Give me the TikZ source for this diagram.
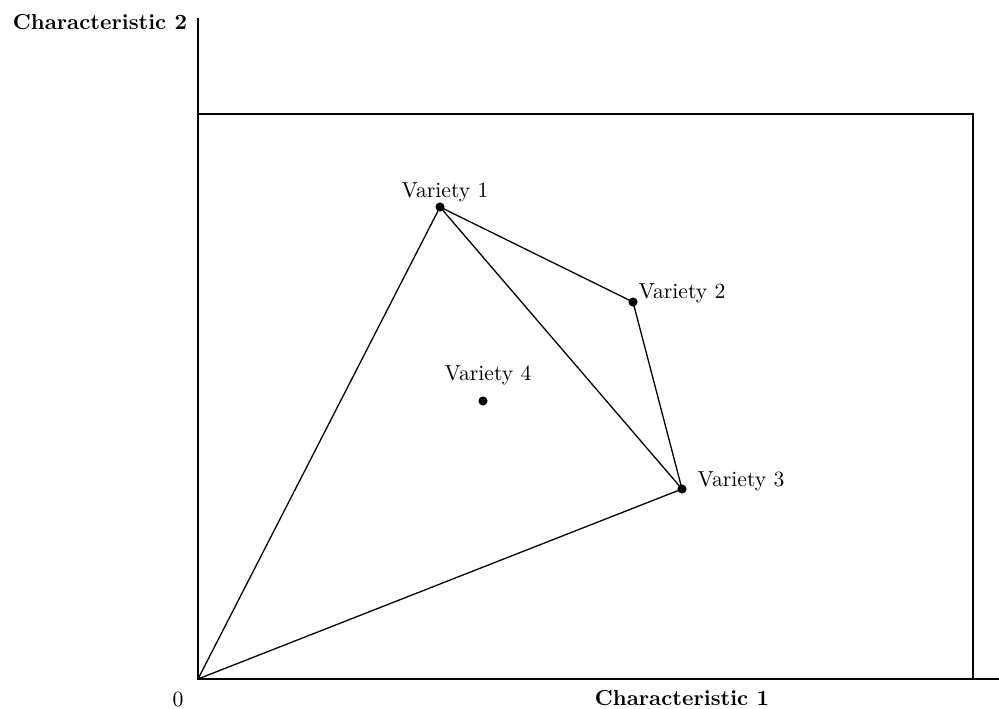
\documentclass[tikz,border=0pt]{standalone}
\begin{document}
\begin{tikzpicture}[x=0.4608pt,y=-0.4608pt,
  axis/.style={line width=0.6pt},
  edge/.style={line width=0.6pt},
  pt/.style={circle,fill=black,inner sep=0pt,minimum size=4.2pt},
  lbl/.style={font=\normalsize},
  axlbl/.style={font=\bfseries}]
\useasboundingbox (0,0) rectangle (999,708);
\coordinate (O) at (198,679);
\coordinate (ytop) at (198,18);
\coordinate (xend) at (999,679);
\coordinate (bl) at (198,114);
\coordinate (br) at (973,114);
\coordinate (bb) at (973,679);
\draw[axis] (ytop) -- (O) -- (xend);
\draw[axis] (bl) -- (br) -- (bb);
\node[pt] (v1) at (440,207) {};
\node[pt] (v2) at (633,302) {};
\node[pt] (v3) at (682,489) {};
\node[pt] (v4) at (483,401) {};
\draw[edge] (O.center) -- (v1.center) -- (v2.center) -- (v3.center) -- (O.center);
\draw[edge] (v1.center) -- (v3.center);
\node[lbl] (l1) at (445,192) {Variety 1};
\node[lbl] (l2) at (682,293) {Variety 2};
\node[lbl] (l3) at (741,481) {Variety 3};
\node[lbl] (l4) at (488,375) {Variety 4};
\node[axlbl] (c2) at (100,22) {Characteristic 2};
\node[axlbl] (c1) at (682,698) {Characteristic 1};
\node[lbl] (zero) at (178,699) {0};
\end{tikzpicture}
\end{document}
